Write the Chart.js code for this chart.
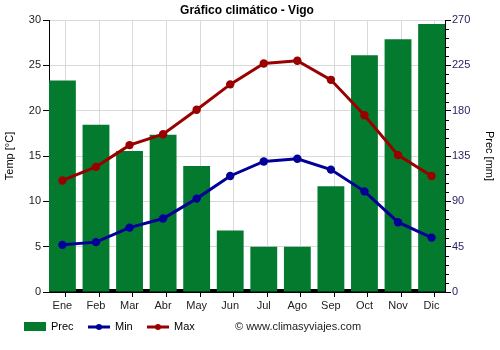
<!DOCTYPE html>
<html><head><meta charset="utf-8">
<script src="https://cdn.jsdelivr.net/npm/chart.js@4.4.0/dist/chart.umd.min.js"></script>
<style>html,body{margin:0;padding:0;background:#fff}#w{width:500px;height:350px}</style>
</head><body><div id="w"><canvas id="c" width="500" height="350"></canvas></div>
<script>
const months = ["Ene","Feb","Mar","Abr","May","Jun","Jul","Ago","Sep","Oct","Nov","Dic"];
const prec = [210,166,140,156,125,61,45,45,105,235,251,266];
const tmin = [5.2,5.5,7.1,8.1,10.3,12.8,14.4,14.7,13.5,11.1,7.7,6.0];
const tmax = [12.3,13.8,16.2,17.4,20.1,22.9,25.2,25.5,23.4,19.5,15.1,12.8];
const tempTicks = [0,5,10,15,20,25,30];
const precTicks = [0,45,90,135,180,225,270];
const title = "Gráfico climático - Vigo";
const credit = "© www.climasyviajes.com";

const GREEN = "#047a2f", BLUE = "#000099", RED = "#990000";
const FONT = "'Liberation Sans', Arial, sans-serif";
const HALF = 0.4; // half-bar in category units (bars flush with axes)

const pts = arr => arr.map((v, i) => ({ x: i, y: v }));

const extras = {
  id: 'extras',
  beforeDatasetsDraw(chart) {
    const ctx = chart.ctx, a = chart.chartArea;
    ctx.save();
    ctx.fillStyle = '#000';
    ctx.fillRect(a.left, a.bottom - 3, a.right - a.left, 3);
    const s = chart.scales.y2;
    ctx.strokeStyle = '#000'; ctx.lineWidth = 1;
    for (let v = 9; v < 270; v += 9) {
      if (v % 45 === 0) continue;
      const y = Math.round(s.getPixelForValue(v)) + 0.5;
      ctx.beginPath(); ctx.moveTo(a.right, y); ctx.lineTo(a.right + 4, y); ctx.stroke();
    }
    ctx.restore();
  },
  afterDraw(chart) {
    const ctx = chart.ctx;
    ctx.save();
    ctx.fillStyle = '#000';
    ctx.font = "bold 12px " + FONT;
    ctx.textAlign = 'center'; ctx.textBaseline = 'middle';
    ctx.fillText(title, 247, 11);
    const ly = 327;
    ctx.font = "11px " + FONT;
    ctx.textAlign = 'left';
    ctx.fillStyle = GREEN; ctx.fillRect(24, 322, 22, 9);
    ctx.fillStyle = '#000'; ctx.fillText('Prec', 51, ly);
    ctx.strokeStyle = BLUE; ctx.lineWidth = 3;
    ctx.beginPath(); ctx.moveTo(88, ly); ctx.lineTo(110, ly); ctx.stroke();
    ctx.fillStyle = BLUE; ctx.beginPath(); ctx.arc(99, ly, 3, 0, Math.PI*2); ctx.fill();
    ctx.fillStyle = '#000'; ctx.fillText('Min', 115, ly);
    ctx.strokeStyle = RED;
    ctx.beginPath(); ctx.moveTo(147, ly); ctx.lineTo(169, ly); ctx.stroke();
    ctx.fillStyle = RED; ctx.beginPath(); ctx.arc(158, ly, 3, 0, Math.PI*2); ctx.fill();
    ctx.fillStyle = '#000'; ctx.fillText('Max', 174, ly);
    ctx.fillStyle = '#222';
    ctx.fillText(credit, 235, ly);
    ctx.restore();
  }
};

new Chart(document.getElementById('c'), {
  data: {
    datasets: [
      { type: 'line', label: 'Max', data: pts(tmax), yAxisID: 'y', borderColor: RED, backgroundColor: RED,
        borderWidth: 3, pointRadius: 4.2, pointBackgroundColor: RED, pointBorderWidth: 0, order: 1 },
      { type: 'line', label: 'Min', data: pts(tmin), yAxisID: 'y', borderColor: BLUE, backgroundColor: BLUE,
        borderWidth: 3, pointRadius: 4.2, pointBackgroundColor: BLUE, pointBorderWidth: 0, order: 2 },
      { type: 'bar', label: 'Prec', data: pts(prec), yAxisID: 'y2', backgroundColor: GREEN,
        barPercentage: 2 * HALF, categoryPercentage: 1.0, order: 3 }
    ]
  },
  options: {
    responsive: false, animation: false,
    layout: { padding: { top: 20, bottom: 37, left: 0, right: 0 } },
    plugins: { legend: { display: false }, title: { display: false }, tooltip: { enabled: false } },
    scales: {
      x: {
        type: 'linear', min: -HALF, max: months.length - 1 + HALF,
        offset: false,
        afterBuildTicks(s) { s.ticks = months.map((m, i) => ({ value: i - HALF })); },
        grid: { color: '#d9d9d9', tickLength: 5, tickColor: '#000' },
        border: { color: '#000', width: 1 },
        ticks: { color: '#222', font: { family: FONT, size: 11 }, padding: 2, maxRotation: 0,
          autoSkip: false, labelOffset: 13.4, callback: (v, i) => months[i] },
        afterFit(s) { s.height = 21; }
      },
      y: {
        position: 'left', min: 0, max: 30,
        afterBuildTicks(s) { s.ticks = tempTicks.map(v => ({ value: v })); },
        ticks: { color: '#222', font: { family: FONT, size: 11 }, padding: 2 },
        grid: { color: '#d9d9d9', tickLength: 6, tickColor: '#000' },
        border: { color: '#000', width: 1 },
        title: { display: true, text: 'Temp [°C]', color: '#000', font: { family: FONT, size: 11 }, padding: { top: 3, bottom: 0 } },
        afterFit(s) { s.width = 49; }
      },
      y2: {
        position: 'right', min: 0, max: 270,
        afterBuildTicks(s) { s.ticks = precTicks.map(v => ({ value: v })); },
        ticks: { color: '#2a1a5e', font: { family: FONT, size: 11 }, padding: 1 },
        grid: { drawOnChartArea: false, tickLength: 6, tickColor: '#000' },
        border: { color: '#000', width: 1 },
        title: { display: true, text: 'Prec [mm]', color: '#000', font: { family: FONT, size: 11 }, padding: { top: 4, bottom: 0 } },
        afterFit(s) { s.width = 55; }
      }
    }
  },
  plugins: [extras]
});
</script></body></html>
